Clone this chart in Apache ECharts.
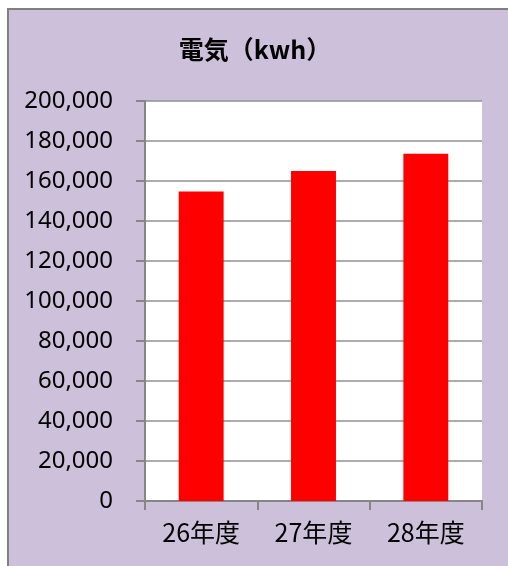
<!DOCTYPE html>
<html>
<head>
<meta charset="utf-8">
<script src="https://cdn.jsdelivr.net/npm/echarts@6/dist/echarts.min.js"></script>
<style>
html,body{margin:0;padding:0;background:#fff;}
#chart{width:508px;height:566px;}
</style>
</head>
<body>
<div id="chart"></div>
<script>
const categories = ['26年度', '27年度', '28年度'];
const values = [154700, 165000, 173600];
const titleText = '電気（kwh）';
const yMin = 0, yMax = 200000, yStep = 20000;

const chart = echarts.init(document.getElementById('chart'), null, {renderer: 'canvas'});
chart.setOption({
  backgroundColor: '#ffffff',
  animation: false,
  graphic: [{
    type: 'rect',
    z: -10,
    silent: true,
    shape: {x: 8, y: 9, width: 520, height: 580},
    style: {fill: '#CCC0DA', stroke: '#808080', lineWidth: 2}
  }],
  title: {
    text: titleText,
    left: 250,
    top: 32,
    textAlign: 'center',
    textStyle: {fontFamily: 'Noto Sans CJK JP', fontWeight: 'bold', fontSize: 25, color: '#000'}
  },
  grid: {
    left: 145, right: 26, top: 101, bottom: 65,
    show: true, backgroundColor: '#ffffff', borderWidth: 0
  },
  xAxis: {
    type: 'category',
    data: categories,
    boundaryGap: true,
    axisLine: {lineStyle: {color: '#868686', width: 2}},
    axisTick: {show: true, alignWithLabel: false, length: 9, lineStyle: {color: '#868686', width: 2}},
    axisLabel: {margin: 19, fontFamily: 'Noto Sans CJK JP', fontSize: 25, color: '#000'}
  },
  yAxis: {
    type: 'value',
    min: yMin, max: yMax, interval: yStep,
    axisLine: {show: true, lineStyle: {color: '#868686', width: 2}},
    axisTick: {show: true, length: 9, lineStyle: {color: '#868686', width: 2}},
    splitLine: {show: true, lineStyle: {color: '#909090', width: 1.5}},
    axisLabel: {
      margin: 32, fontFamily: 'Noto Sans', fontSize: 24, color: '#000',
      formatter: v => v.toLocaleString('en-US')
    }
  },
  series: [{
    type: 'bar',
    data: values,
    barWidth: '40%',
    itemStyle: {color: '#FF0000'}
  }]
});
</script>
</body>
</html>
